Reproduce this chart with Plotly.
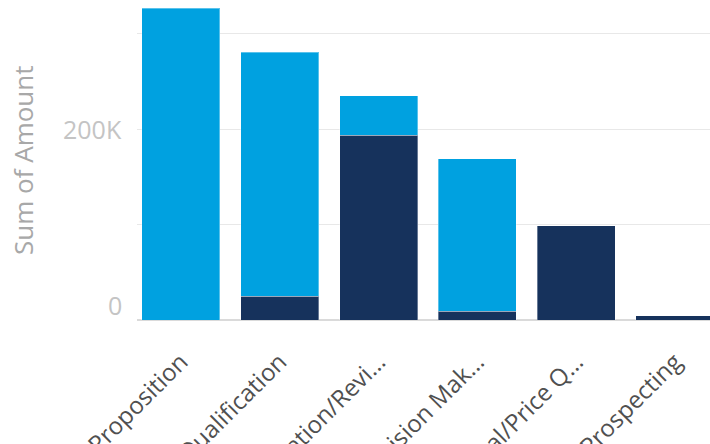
import plotly.graph_objects as go

categories = ["Value Proposition", "Qualification", "Negotiation/Revi…",
              "Id. Decision Mak…", "Proposal/Price Q…", "Prospecting"]
dark_values = [0, 25000, 193700, 9100, 98700, 4200]
light_values = [326700, 255600, 41200, 159500, 0, 0]
ytick_vals = [0, 200000]
ytick_text = ["0", "200K"]

fig = go.Figure()
fig.add_trace(go.Bar(x=categories, y=dark_values, marker=dict(color="#16325C",
                     line=dict(color="rgba(255,255,255,0.35)", width=1))))
fig.add_trace(go.Bar(x=categories, y=light_values, marker=dict(color="#00A1E0",
                     line=dict(color="rgba(255,255,255,0.35)", width=1))))

fig.update_layout(
    width=710, height=444, barmode="stack", bargap=0.21, showlegend=False,
    margin=dict(l=137, r=0, t=0, b=124, autoexpand=False),
    plot_bgcolor="white", paper_bgcolor="white",
    font=dict(family="Open Sans", color="#555555"),
    xaxis=dict(range=[-0.445, 5.355], tickangle=-45, automargin=False,
               tickfont=dict(size=24, color="#505050"), ticklabelstandoff=22,
               showgrid=False, showline=False, ticks=""),
    yaxis=dict(range=[0, 335079], dtick=100000, showticklabels=False, automargin=False,
               gridcolor="#e8e8e8", gridwidth=1, zeroline=True,
               zerolinecolor="#dadada", zerolinewidth=2),
)
for v, t in zip(ytick_vals, ytick_text):
    fig.add_annotation(x=0, xref="paper", y=v, yref="y", text=t, showarrow=False,
                       xanchor="right", xshift=-13, yshift=15 if v == 0 else 0,
                       font=dict(size=25, color="#c4c4c4", family="Open Sans"))
fig.add_annotation(x=-0.199, xref="paper", y=0.5, yref="paper", text="Sum of Amount",
                   showarrow=False, textangle=-90, xanchor="center", yanchor="middle",
                   font=dict(size=26, color="#a8a8a8"))
fig.write_html("out.html", config={"displayModeBar": False},
               post_script="document.body.style.margin='0';")
